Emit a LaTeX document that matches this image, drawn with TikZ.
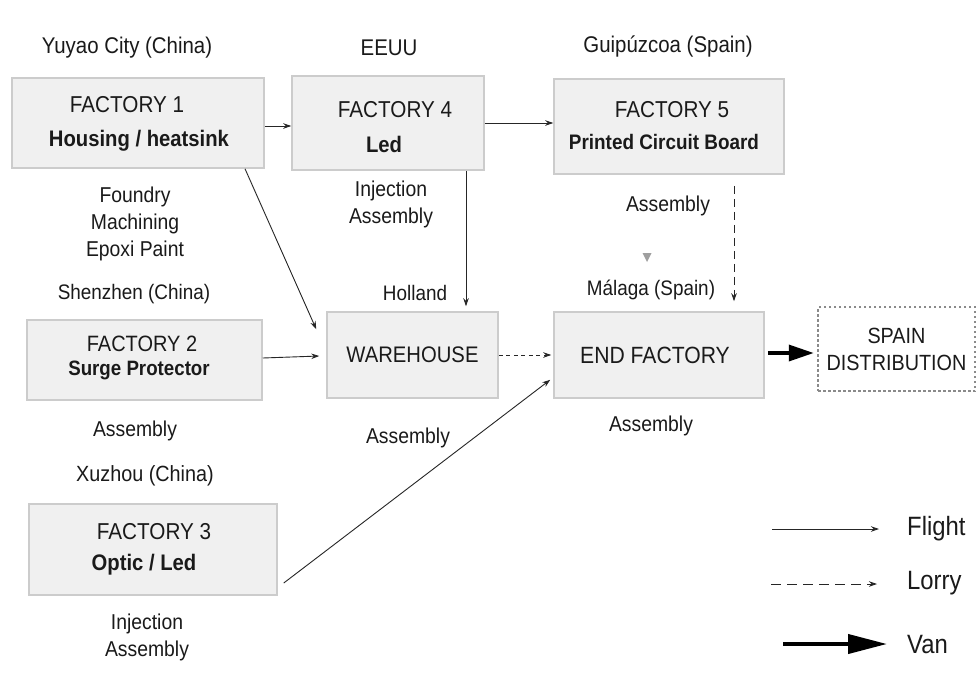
\documentclass[tikz,border=0pt]{standalone}
\usepackage{fontspec}
\setmainfont{Liberation Sans}[FakeStretch=0.9]
\usetikzlibrary{arrows.meta}
\definecolor{boxfill}{HTML}{F0F0F0}
\definecolor{boxline}{HTML}{CCCCCC}
\definecolor{ink}{HTML}{1A1A1A}
\definecolor{wire}{HTML}{262626}
\definecolor{dotline}{HTML}{8A8A8A}

\begin{document}
\begin{tikzpicture}[x=1pt,y=-1pt,
  box/.style={draw=boxline, line width=1.5pt, fill=boxfill, inner sep=0pt},
  txt/.style={text=ink, inner sep=0pt, align=center, font=\fontsize{21.5}{27}\selectfont},
  place/.style={txt, font=\fontsize{21}{25}\selectfont},
  bigplace/.style={txt, font=\fontsize{22.7}{25}\selectfont},
  ttl/.style={txt, font=\fontsize{23}{26}\selectfont},
  sub/.style={txt, font=\fontsize{22.5}{26}\selectfont\bfseries},
  legendtext/.style={txt, anchor=west, font=\fontsize{26.5}{30}\selectfont},
  flight/.style={draw=wire, line width=0.9pt, -{Stealth[length=8pt,width=5.5pt]}},
  lorry/.style={flight, dash pattern=on 8pt off 5pt},
  van/.style={draw=black, line width=3.5pt, -{Triangle[length=25pt,width=16pt]}}
]
\useasboundingbox (0,0) rectangle (977,681);
\fill[white] (0,0) rectangle (977,681);

% ---- boxes ----
\node[box, minimum width=252pt, minimum height=90pt] (f1) at (138,123) {};
\node[box, minimum width=192pt, minimum height=94pt] (f4) at (388,123) {};
\node[box, minimum width=230pt, minimum height=95pt] (f5) at (669,126.5) {};
\node[box, minimum width=235pt, minimum height=80pt] (f2) at (144.5,360) {};
\node[box, minimum width=171pt, minimum height=86pt, ttl, font=\fontsize{22.5}{26}\selectfont] (wh) at (412.5,355) {WAREHOUSE};
\node[box, minimum width=210pt, minimum height=86pt, ttl, font=\fontsize{23.5}{26}\selectfont] (end) at (659,355) {\hspace*{-8pt}END FACTORY};
\node[draw=dotline, line width=2.5pt, dash pattern=on 2.5pt off 2.5pt, minimum width=157pt, minimum height=84pt,
      txt, font=\fontsize{22}{27}\selectfont] (spain) at (896.5,349) {SPAIN\\DISTRIBUTION};
\node[box, minimum width=248pt, minimum height=91pt] (f3) at (153,549.5) {};

% ---- box titles ----
\node[ttl] (f1t) at (127,105) {FACTORY 1};
\node[sub] (f1s) at (139,141) {Housing / heatsink};
\node[ttl] (f4t) at (395,110) {FACTORY 4};
\node[sub] (f4s) at (384,144) {Led};
\node[ttl] (f5t) at (672,110) {FACTORY 5};
\node[sub, font=\fontsize{21}{26}\selectfont\bfseries] (f5s) at (664,142) {Printed Circuit Board};
\node[ttl, font=\fontsize{22.2}{26}\selectfont] (f2t) at (142,344) {FACTORY 2};
\node[sub, font=\fontsize{20.8}{26}\selectfont\bfseries] (f2s) at (139,370) {Surge Protector};
\node[ttl] (f3t) at (154,532) {FACTORY 3};
\node[sub] (f3s) at (144,565) {Optic / Led};

% ---- places ----
\node[bigplace] (l1) at (127,48) {Yuyao City (China)};
\node[bigplace] (l4) at (389,48) {EEUU};
\node[bigplace] (l5) at (668,46) {Guipúzcoa (Spain)};
\node[place] (l2) at (134,294) {Shenzhen (China)};
\node[place] (lh) at (415,293) {Holland};
\node[place] (lm) at (651,290) {Málaga (Spain)};
\node[place, font=\fontsize{22}{25}\selectfont] (l3) at (145,476) {Xuzhou (China)};

% ---- processes ----
\node[txt] (p1) at (135,224) {Foundry\\Machining\\Epoxi Paint};
\node[txt] (p4) at (391,204) {Injection\\Assembly};
\node[txt] (p5) at (668,206) {Assembly};
\node[txt] (p2) at (135,431) {Assembly};
\node[txt] (pw) at (408,438) {Assembly};
\node[txt] (pe) at (651,426) {Assembly};
\node[txt] (p3) at (147,637) {Injection\\Assembly};

% small grey marker above Malaga
\fill[gray!75] (642.5,253) -- (651.5,253) -- (647,262) -- cycle;

% ---- transport links ----
\draw[flight] ([yshift=-3pt]f1.east) -- ([yshift=-3pt]f1.east -| f4.west);
\draw[flight] (f4.east) -- (f4.east -| f5.west);
\draw[flight] ([xshift=107pt]f1.south) -- ([xshift=-10pt,yshift=-18pt]wh.north west);
\draw[flight] ([yshift=2pt]f2.east) -- ([xshift=-7pt,yshift=-1pt]wh.west);
\draw[flight, shorten >=5pt] ([xshift=78pt]f4.south) -- ([xshift=78pt]f4.south |- wh.north);
\draw[flight, dash pattern=on 4pt off 3.5pt, shorten >=2pt] (wh.east) -- (end.west);
\draw[lorry, shorten <=11pt, shorten >=10pt] ([xshift=65pt]f5.south) -- ([xshift=65pt]f5.south |- end.north);
\draw[flight] ([xshift=6pt,yshift=-33.5pt]f3.east) -- ([xshift=-3pt,yshift=19pt]end.south west);
\draw[van] ([xshift=3pt,yshift=2pt]end.east) -- ([xshift=-3pt,yshift=-4pt]spain.west);

% ---- legend ----
\coordinate (fa) at (772,529);
\coordinate (fb) at (879,529);
\coordinate (la) at (771,584);
\coordinate (lb) at (877,584);
\coordinate (va) at (783,644);
\coordinate (vb) at (887,644);
\draw[flight] (fa) -- (fb);
\draw[flight, dash pattern=on 10pt off 6pt] (la) -- (lb);
\draw[draw=black, line width=4pt, -{Triangle[length=39pt,width=19pt]}] (va) -- (vb);
\node[legendtext] (lgf) at (907,529) {Flight};
\node[legendtext] (lgl) at (907,583) {Lorry};
\node[legendtext] (lgv) at (907,645) {Van};
\end{tikzpicture}
\end{document}
